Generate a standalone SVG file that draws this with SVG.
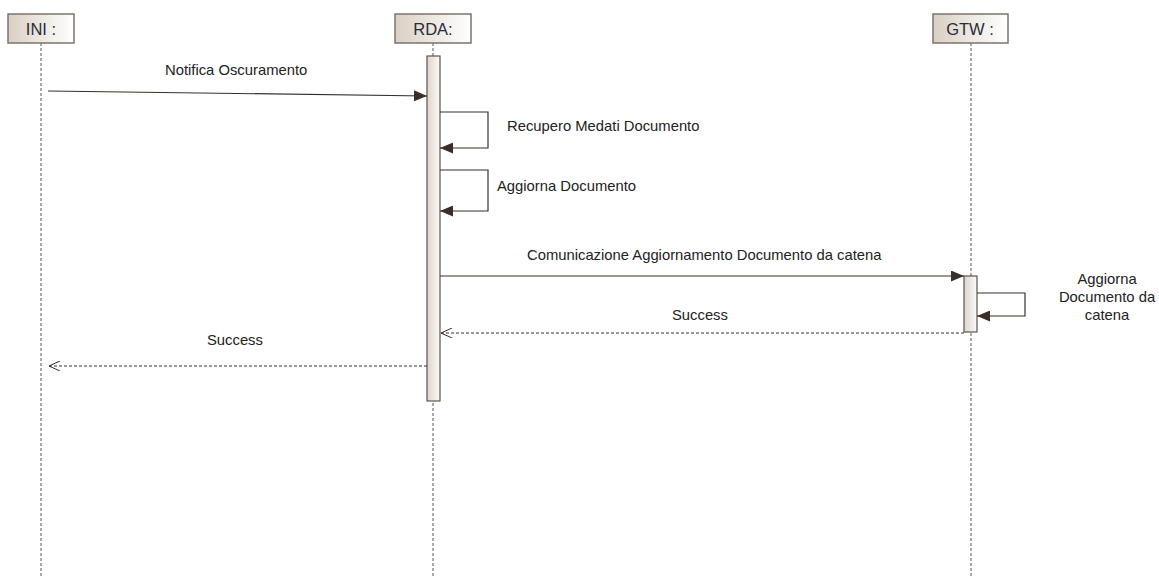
<svg xmlns="http://www.w3.org/2000/svg" width="1159" height="578" viewBox="0 0 1159 578">
<defs>
<linearGradient id="boxg" x1="0" y1="0" x2="1" y2="0">
<stop offset="0" stop-color="#d9d0c4"/>
<stop offset="1" stop-color="#ffffff"/>
</linearGradient>
<linearGradient id="actg" x1="0" y1="0" x2="1" y2="0">
<stop offset="0" stop-color="#ddd5cb"/>
<stop offset="1" stop-color="#fbfaf8"/>
</linearGradient>
<marker id="filled" viewBox="0 0 13 11" refX="13" refY="5.5" markerWidth="13" markerHeight="11" markerUnits="userSpaceOnUse" orient="auto">
<path d="M0,0 L13,5.5 L0,11 Z" fill="#3a2f28"/>
</marker>
<marker id="open" viewBox="0 0 12 10" refX="11" refY="5" markerWidth="12" markerHeight="10" markerUnits="userSpaceOnUse" orient="auto">
<path d="M0,0 L11,5 L0,10" fill="none" stroke="#3a2f28" stroke-width="1"/>
</marker>
</defs>
<style>
.box{fill:url(#boxg);stroke:#7d736a;stroke-width:1.5}
.act{fill:url(#actg);stroke:#5e544c;stroke-width:1.2}
.life{stroke:#555;stroke-width:1;stroke-dasharray:3,2;fill:none}
.msg{stroke:#3a2f28;stroke-width:1.2;fill:none}
.ret{stroke:#3a2f28;stroke-width:1;stroke-dasharray:3,2;fill:none}
text{font-family:"Liberation Sans",Arial,sans-serif;font-size:14.8px;fill:#222}
.lbl{font-size:16.5px;fill:#2a2a3a}
</style>
<rect width="1159" height="578" fill="#ffffff"/>
<g id="lifelines">
<line class="life" x1="41" y1="43" x2="41" y2="578"/>
<line class="life" x1="433" y1="43" x2="433" y2="578"/>
<line class="life" x1="971" y1="43" x2="971" y2="578"/>
</g>
<g id="INI">
<rect class="box" x="8" y="14" width="66" height="29"/>
<text class="lbl" x="41" y="35" text-anchor="middle">INI :</text>
</g>
<g id="RDA">
<rect class="box" x="395" y="14" width="76" height="29"/>
<text class="lbl" x="433" y="35" text-anchor="middle">RDA:</text>
<rect class="act" x="427" y="56" width="13" height="345"/>
</g>
<g id="GTW">
<rect class="box" x="933" y="14" width="75" height="29"/>
<text class="lbl" x="970" y="35" text-anchor="middle">GTW :</text>
<rect class="act" x="964" y="276" width="13" height="56"/>
</g>
<g id="connectors">
<line class="msg" x1="48" y1="91" x2="427" y2="96" marker-end="url(#filled)"/>
<polyline class="msg" points="440,112 488,112 488,148 440,148" marker-end="url(#filled)"/>
<polyline class="msg" points="440,170 488,170 488,211 440,211" marker-end="url(#filled)"/>
<line class="msg" x1="440" y1="276" x2="964" y2="276" marker-end="url(#filled)"/>
<polyline class="msg" points="977,293 1025,293 1025,316 977,316" marker-end="url(#filled)"/>
<line class="ret" x1="964" y1="333" x2="441" y2="333" marker-end="url(#open)"/>
<line class="ret" x1="427" y1="366" x2="49" y2="366" marker-end="url(#open)"/>
</g>
<g id="labels">
<text x="165" y="75">Notifica Oscuramento</text>
<text x="507" y="131">Recupero Medati Documento</text>
<text x="497" y="191">Aggiorna Documento</text>
<text x="527" y="260">Comunicazione Aggiornamento Documento da catena</text>
<text x="1107" y="284" text-anchor="middle">Aggiorna</text>
<text x="1107" y="302" text-anchor="middle">Documento da</text>
<text x="1107" y="320" text-anchor="middle">catena</text>
<text x="672" y="320">Success</text>
<text x="207" y="345">Success</text>
</g>
</svg>
